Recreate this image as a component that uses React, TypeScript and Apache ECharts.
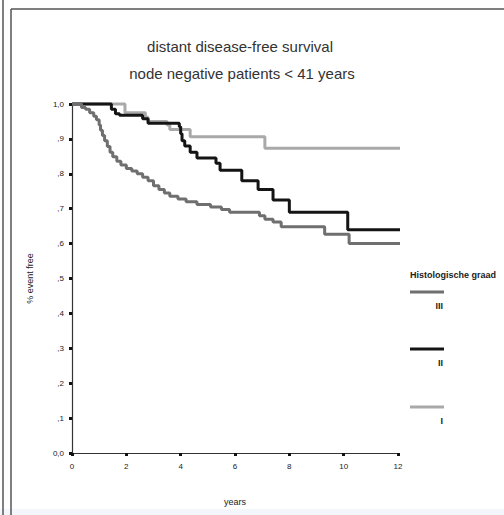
import React, { useEffect, useRef } from "react";
import * as echarts from "echarts";

const titleLines = ["distant disease-free survival", "node negative patients < 41 years"];
const xTicks = [0, 2, 4, 6, 8, 10, 12];
const yTickLabels = ["0,0", ",1", ",2", ",3", ",4", ",5", ",6", ",7", ",8", ",9", "1,0"];
const xAxisName = "years";
const yAxisName = "% event free";
const legendTitle = "Histologische graad";
const seriesNames = ["III", "II", "I"];

// Kaplan-Meier step points [years, survival]
const gradeIII: [number, number][] = [
  [0, 1], [0.35, 0.99], [0.5, 0.985], [0.65, 0.975], [0.8, 0.965], [0.9, 0.955], [1.0, 0.94],
  [1.05, 0.925], [1.12, 0.91], [1.2, 0.895], [1.3, 0.878], [1.4, 0.862], [1.5, 0.849],
  [1.65, 0.836], [1.8, 0.825], [2.0, 0.815], [2.2, 0.808], [2.4, 0.8], [2.6, 0.79],
  [2.8, 0.78], [3.0, 0.766], [3.2, 0.755], [3.4, 0.745], [3.6, 0.736], [3.9, 0.728],
  [4.2, 0.72], [4.6, 0.712], [5.1, 0.705], [5.5, 0.698], [5.8, 0.69], [6.9, 0.68],
  [7.1, 0.67], [7.4, 0.662], [7.7, 0.648], [9.3, 0.627], [10.2, 0.6], [12.7, 0.6],
];
const gradeII: [number, number][] = [
  [0, 1], [1.45, 0.985], [1.6, 0.972], [1.75, 0.968], [2.6, 0.958], [2.8, 0.945],
  [3.95, 0.935], [4.0, 0.915], [4.05, 0.895], [4.15, 0.88], [4.35, 0.862], [4.6, 0.845],
  [5.3, 0.83], [5.45, 0.81], [6.25, 0.78], [6.85, 0.755], [7.4, 0.725], [8.0, 0.69],
  [10.15, 0.64], [12.7, 0.64],
];
const gradeI: [number, number][] = [
  [0, 1], [1.95, 0.975], [2.7, 0.962], [2.8, 0.95], [3.5, 0.94], [3.6, 0.927],
  [4.35, 0.906], [7.1, 0.873], [12.7, 0.873],
];

const seriesData = [gradeIII, gradeII, gradeI];
const colors = ["#6f6f6f", "#141414", "#a9a9a9"];

export default function App() {
  const ref = useRef<HTMLDivElement>(null);
  useEffect(() => {
    if (!ref.current) return;
    const chart = echarts.init(ref.current, null, { renderer: "svg" });
    const font = "Liberation Sans, Arial, sans-serif";
    const legendY = [292, 349, 407];
    const legendGraphics: any[] = [];
    seriesNames.forEach((n, i) => {
      legendGraphics.push({
        type: "line",
        shape: { x1: 410, y1: legendY[i], x2: 444, y2: legendY[i] },
        style: { stroke: colors[i], lineWidth: 3 },
      });
      legendGraphics.push({
        type: "text",
        x: 443,
        y: legendY[i] + 14,
        style: {
          text: n,
          fill: "#222",
          font: `bold 9px ${font}`,
          textAlign: "right",
          textVerticalAlign: "middle",
        },
      });
    });
    chart.setOption({
      animation: false,
      backgroundColor: "#ffffff",
      title: [
        {
          text: titleLines[0],
          left: 235,
          top: 34,
          textAlign: "center",
          textStyle: { fontFamily: font, fontSize: 15, fontWeight: "normal", color: "#333" },
        },
        {
          text: titleLines[1],
          left: 237,
          top: 61,
          textAlign: "center",
          textStyle: { fontFamily: font, fontSize: 15, fontWeight: "normal", color: "#333" },
        },
      ],
      grid: {
        left: 72,
        right: 106,
        top: 104,
        bottom: 62,
        containLabel: false,
        outerBoundsMode: "none",
      },
      xAxis: {
        type: "value",
        min: 0,
        max: 12,
        interval: 2,
        name: xAxisName,
        nameLocation: "middle",
        nameGap: 44,
        nameTextStyle: { fontFamily: font, fontSize: 9, color: "#222" },
        splitLine: { show: false },
        axisLine: { onZero: false, lineStyle: { color: "#333", width: 1.2 } },
        axisTick: { length: 3, lineStyle: { color: "#111", width: 3 } },
        axisLabel: {
          fontFamily: font,
          fontSize: 8,
          color: "#222",
          margin: 9,
          formatter: (v: number) => (xTicks.includes(v) ? String(v) : ""),
        },
      },
      yAxis: {
        type: "value",
        min: 0,
        max: 1,
        interval: 0.1,
        name: yAxisName,
        nameLocation: "middle",
        nameGap: 38,
        nameRotate: 90,
        nameTextStyle: { fontFamily: font, fontSize: 9, color: "#222" },
        splitLine: { show: false },
        axisLine: { onZero: false, lineStyle: { color: "#333", width: 1.2 } },
        axisTick: { length: 3, lineStyle: { color: "#111", width: 3 } },
        axisLabel: {
          fontFamily: font,
          fontSize: 8,
          color: "#222",
          margin: 8,
          formatter: (v: number) => yTickLabels[Math.round(v * 10)] ?? "",
        },
      },
      series: seriesData.map((d, i) => ({
        name: seriesNames[i],
        type: "line",
        step: "end",
        data: d,
        showSymbol: false,
        clip: false,
        lineStyle: { color: colors[i], width: 3 },
        z: 3 - i + 2,
      })),
      graphic: [
        {
          type: "rect",
          shape: { x: 0, y: 509, width: 504, height: 6 },
          style: { fill: "#f3f7fb" },
          silent: true,
        },
        {
          type: "line",
          shape: { x1: 3, y1: 0, x2: 3, y2: 515 },
          style: { stroke: "#555", lineWidth: 1.5 },
        },
        {
          type: "line",
          shape: { x1: 11, y1: 9, x2: 11, y2: 515 },
          style: { stroke: "#555", lineWidth: 1.5 },
        },
        {
          type: "line",
          shape: { x1: 11, y1: 9, x2: 504, y2: 9 },
          style: { stroke: "#555", lineWidth: 1.5 },
        },
        {
          type: "text",
          x: 410,
          y: 275,
          style: {
            text: legendTitle,
            fill: "#222",
            font: `bold 9px "Liberation Sans Narrow", ${font}`,
            textAlign: "left",
            textVerticalAlign: "middle",
          },
        },
        ...legendGraphics,
      ],
    });
    return () => chart.dispose();
  }, []);
  return (
    <div
      ref={ref}
      style={{ position: "fixed", left: 0, top: 0, width: 504, height: 515 }}
    />
  );
}
